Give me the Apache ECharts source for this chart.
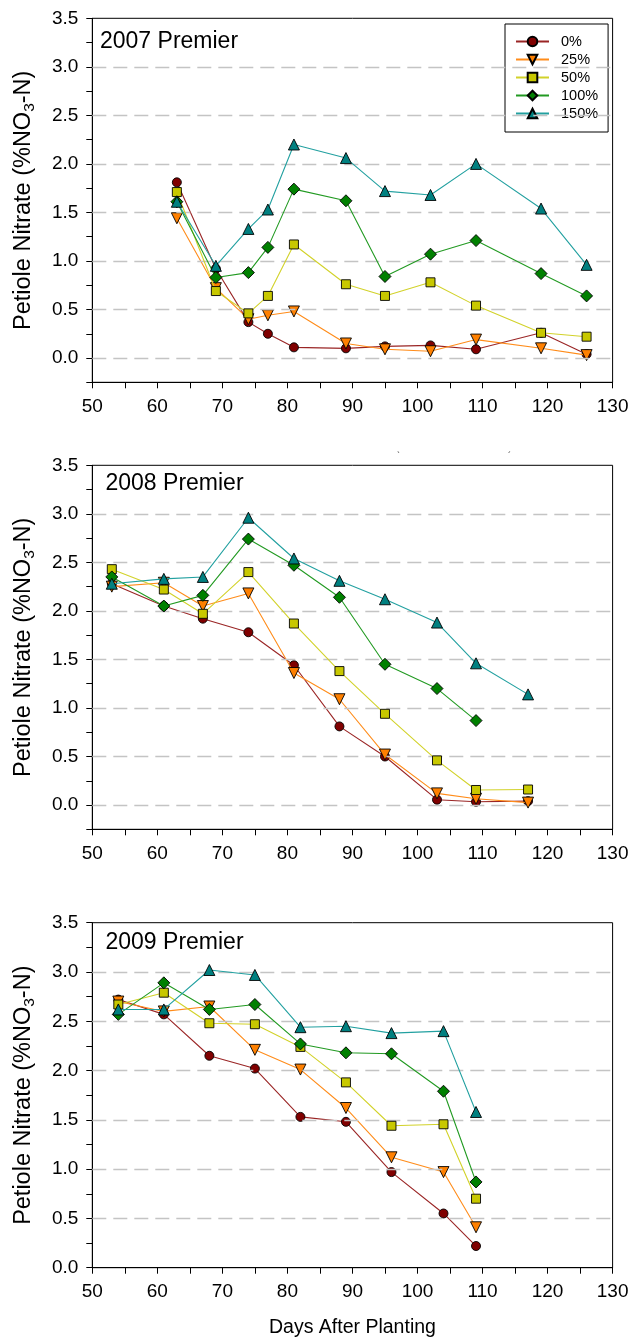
<!DOCTYPE html>
<html>
<head>
<meta charset="utf-8">
<title>Petiole Nitrate – Premier 2007–2009</title>
<script src="https://cdn.jsdelivr.net/npm/echarts@6/dist/echarts.min.js"></script>
<style>
  html, body { margin: 0; padding: 0; background: #fff; }
  #chart { width: 634px; height: 1342px; }
</style>
</head>
<body>
<div id="chart"></div>
<script>
// ---- data: petiole nitrate (% NO3-N) by days after planting ----
const treatments = ['0%', '25%', '50%', '100%', '150%'];

const days2007 = [63, 69, 74, 77, 81, 89, 95, 102, 109, 119, 126];
const n2007_0   = [1.81, 0.92, 0.37, 0.25, 0.11, 0.10, 0.12, 0.13, 0.09, 0.26, 0.04];
const n2007_25  = [1.44, 0.72, 0.40, 0.44, 0.48, 0.15, 0.09, 0.07, 0.19, 0.10, 0.03];
const n2007_50  = [1.71, 0.69, 0.46, 0.64, 1.17, 0.76, 0.64, 0.78, 0.54, 0.26, 0.22];
const n2007_100 = [1.61, 0.83, 0.88, 1.14, 1.74, 1.62, 0.84, 1.07, 1.21, 0.87, 0.64];
const n2007_150 = [1.61, 0.95, 1.33, 1.53, 2.20, 2.06, 1.72, 1.68, 2.00, 1.54, 0.96];

const days2008 = [53, 61, 67, 74, 81, 88, 95, 103, 109, 117];
const n2008_0   = [2.28, 2.05, 1.92, 1.78, 1.44, 0.81, 0.50, 0.055, 0.034, 0.04];
const n2008_25  = [2.25, 2.29, 2.05, 2.18, 1.36, 1.09, 0.52, 0.12, 0.065, 0.025];
const n2008_50  = [2.43, 2.22, 1.97, 2.40, 1.87, 1.38, 0.94, 0.46, 0.155, 0.16];
const n2008_100 = [2.35, 2.05, 2.16, 2.74, 2.47, 2.14, 1.45, 1.20, 0.87];
const n2008_150 = [2.28, 2.33, 2.35, 2.96, 2.54, 2.31, 2.12, 1.88, 1.46, 1.14];

const days2009 = [54, 61, 68, 75, 82, 89, 96, 104, 109];
const n2009_0   = [2.72, 2.57, 2.15, 2.02, 1.53, 1.48, 0.97, 0.55, 0.22];
const n2009_25  = [2.70, 2.60, 2.65, 2.21, 2.01, 1.62, 1.12, 0.97, 0.41];
const n2009_50  = [2.67, 2.79, 2.48, 2.47, 2.24, 1.88, 1.44, 1.455, 0.70];
const n2009_100 = [2.57, 2.89, 2.62, 2.67, 2.27, 2.18, 2.17, 1.79, 0.87];
const n2009_150 = [2.62, 2.62, 3.02, 2.97, 2.44, 2.45, 2.38, 2.40, 1.58];

const panelTitles = ['2007 Premier', '2008 Premier', '2009 Premier'];
const gridValues = [0, 0.5, 1.0, 1.5, 2.0, 2.5, 3.0];

// ---- styling ----
const FONT = '"Liberation Sans", Arial, Helvetica, sans-serif';
const markerStyles = [
  { symbol: 'circle',   size: 9,  rotate: 0,   fill: '#800000', line: '#9a2525' },
  { symbol: 'triangle', size: 11, rotate: 180, fill: '#ff8000', line: '#ff8c1a' },
  { symbol: 'rect',     size: 9,  rotate: 0,   fill: '#c8c800', line: '#d2d22a' },
  { symbol: 'diamond',  size: 12, rotate: 0,   fill: '#008000', line: '#229a22' },
  { symbol: 'triangle', size: 11, rotate: 0,   fill: '#008080', line: '#22a0a0' }
];

const panels = [
  { days: days2007, values: [n2007_0, n2007_25, n2007_50, n2007_100, n2007_150],
    top: 18.3, height: 364, yMin: -0.25, titleX: 100, titleY: 41.5 },
  { days: days2008, values: [n2008_0, n2008_25, n2008_50, n2008_100, n2008_150],
    top: 465.3, height: 364, yMin: -0.25, titleX: 105.5, titleY: 484 },
  { days: days2009, values: [n2009_0, n2009_25, n2009_50, n2009_100, n2009_150],
    top: 922.7, height: 345, yMin: 0, titleX: 105.5, titleY: 943 }
];

const PLOT_LEFT = 92.3;
const PLOT_WIDTH = 520.3;

const grids = [], xAxes = [], yAxes = [], series = [], graphics = [];

panels.forEach((p, i) => {
  grids.push({
    left: PLOT_LEFT, top: p.top, width: PLOT_WIDTH, height: p.height,
    show: true, borderColor: '#000', borderWidth: 1, backgroundColor: '#fff'
  });

  xAxes.push({
    gridIndex: i, type: 'value', min: 50, max: 130, interval: 5,
    axisLine: { onZero: false, lineStyle: { color: '#000', width: 1 } },
    axisTick: { show: true, length: 6, lineStyle: { color: '#000' } },
    axisLabel: {
      color: '#000', fontFamily: FONT, fontSize: 19, margin: 15,
      formatter: v => (v % 10 === 0 ? String(v) : '')
    },
    splitLine: { show: false },
    name: i === 2 ? 'Days After Planting' : '',
    nameLocation: 'middle', nameGap: 50,
    nameTextStyle: { color: '#000', fontFamily: FONT, fontSize: 19.5 }
  });

  yAxes.push({
    gridIndex: i, type: 'value', min: p.yMin, max: 3.5, interval: 0.25,
    axisLine: { onZero: false, lineStyle: { color: '#000', width: 1 } },
    axisTick: { show: true, length: 6, lineStyle: { color: '#000' } },
    axisLabel: {
      color: '#000', fontFamily: FONT, fontSize: 19, margin: 14,
      formatter: v => {
        const half = v * 2;
        return (v >= 0 && Math.abs(half - Math.round(half)) < 1e-6) ? v.toFixed(1) : '';
      }
    },
    splitLine: { show: false },
    name: '{t|Petiole Nitrate (%NO}{s|3}{t|-N)}',
    nameLocation: 'middle', nameRotate: 90, nameGap: 55,
    nameTextStyle: {
      color: '#000', fontFamily: FONT,
      rich: {
        t: { fontSize: 23.5, lineHeight: 28, fontFamily: FONT, color: '#000' },
        s: { fontSize: 15.5, lineHeight: 15.5, verticalAlign: 'bottom', fontFamily: FONT, color: '#000' }
      }
    }
  });

  // dashed horizontal reference lines at every 0.5
  series.push({
    name: 'grid-' + i, type: 'line', xAxisIndex: i, yAxisIndex: i, data: [],
    silent: true, z: 1,
    markLine: {
      silent: true, symbol: ['none', 'none'], animation: false,
      label: { show: false },
      lineStyle: { color: '#c4c4c4', width: 1.4, type: [14, 7] },
      data: gridValues.filter(v => v > p.yMin).map(v => ({ yAxis: v }))
    }
  });

  treatments.forEach((t, k) => {
    const m = markerStyles[k];
    const vals = p.values[k];
    series.push({
      name: t, type: 'line', xAxisIndex: i, yAxisIndex: i, z: 3 + k,
      data: vals.map((v, j) => [p.days[j], v]),
      symbol: m.symbol, symbolSize: m.size, symbolRotate: m.rotate,
      showAllSymbol: true,
      lineStyle: { color: m.line, width: 1.1 },
      itemStyle: { color: m.fill, borderColor: '#000', borderWidth: 0.9 },
      emphasis: { disabled: true },
      animation: false
    });
  });

  graphics.push({
    type: 'text', x: p.titleX, y: p.titleY, z: 50,
    style: { text: panelTitles[i], fill: '#000', font: '23px ' + FONT, verticalAlign: 'middle', align: 'left' }
  });
});

// tiny stray glyph marks above the 2008 panel
graphics.push({ type: 'text', x: 397, y: 456, style: { text: '`', fill: '#333', font: '9px ' + FONT, verticalAlign: 'middle' } });
graphics.push({ type: 'text', x: 508, y: 456, style: { text: '´', fill: '#333', font: '9px ' + FONT, verticalAlign: 'middle' } });

const chart = echarts.init(document.getElementById('chart'), null, { renderer: 'canvas' });
chart.setOption({
  animation: false,
  backgroundColor: '#fff',
  grid: grids,
  xAxis: xAxes,
  yAxis: yAxes,
  legend: {
    data: treatments,
    orient: 'vertical',
    left: 505, top: 24,
    padding: [10, 10, 11, 10],
    backgroundColor: '#fff',
    borderColor: '#000', borderWidth: 1,
    itemWidth: 33, itemHeight: 12, itemGap: 3,
    textStyle: { color: '#000', fontFamily: FONT, fontSize: 14.5, padding: [0, 0, 0, 7] },
    selectedMode: false
  },
  series: series,
  graphic: graphics
});
</script>
</body>
</html>
